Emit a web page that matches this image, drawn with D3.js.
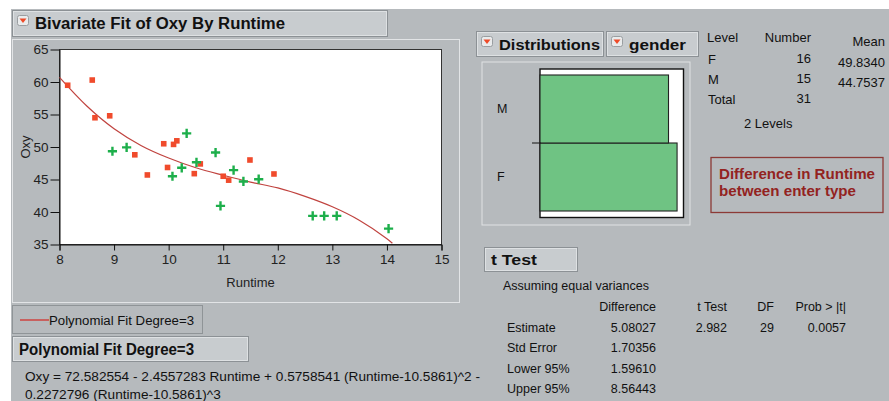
<!DOCTYPE html>
<html>
<head>
<meta charset="utf-8">
<script src="https://cdn.jsdelivr.net/npm/d3@7"></script>
<style>
  body { margin: 0; background: #fff; }
  svg { display: block; font-family: "Liberation Sans", Arial, sans-serif; }
</style>
</head>
<body>
<div id="main"></div>
<script>
// values
const femaleRuntime = [8.15, 8.6, 8.65, 8.92, 9.38, 9.61, 9.91, 9.98, 10.09, 10.15, 10.47, 10.58, 11.0, 11.1, 11.49, 11.93];
const femaleOxy = [59.5, 60.3, 54.5, 54.8, 48.8, 45.7, 50.5, 46.85, 50.4, 50.95, 45.9, 47.4, 45.5, 44.9, 48.0, 45.85];
const maleRuntime = [8.97, 9.23, 10.07, 10.24, 10.33, 10.51, 10.86, 10.95, 11.19, 11.37, 11.65, 12.64, 12.85, 13.08, 14.03];
const maleOxy = [49.35, 49.95, 45.5, 46.8, 52.1, 47.65, 49.15, 40.95, 46.45, 44.7, 45.05, 39.4, 39.4, 39.4, 37.45];
const fitRuntime = [8.0, 8.5, 9.0, 9.5, 10.0, 10.5, 11.0, 11.5, 12.0, 12.5, 13.0, 13.5, 14.0, 14.1];
const fitOxy = [60.7, 56.3, 52.8, 50.2, 48.3, 46.8, 45.65, 44.6, 43.7, 42.4, 40.8, 38.7, 35.9, 35.2];
const xTicks = [8, 9, 10, 11, 12, 13, 14, 15];
const yTicks = [35, 40, 45, 50, 55, 60, 65];

const levels = ["F", "M"];
const counts = [16, 15];
const means = ["49.8340", "44.7537"];
const total = 31;

const tRowNames = ["Estimate", "Std Error", "Lower 95%", "Upper 95%"];
const tDifference = ["5.08027", "1.70356", "1.59610", "8.56443"];
const tHeaders = ["Difference", "t Test", "DF", "Prob > |t|"];
const tEstimateExtra = ["2.982", "29", "0.0057"];

const eqLines = [
  "Oxy = 72.582554 - 2.4557283 Runtime + 0.5758541 (Runtime-10.5861)^2 -",
  "0.2272796 (Runtime-10.5861)^3"
];

const W = 889, H = 401;
const bg = "#b6babd";
const boxFill = "#c8cccf";

const svg = d3.select("#main").append("svg").attr("width", W).attr("height", H);

svg.append("rect").attr("width", W).attr("height", H).attr("fill", "#fff");
svg.append("rect").attr("x", 11).attr("y", 9).attr("width", W - 11).attr("height", H - 9).attr("fill", bg);

// title style boxes with the little red triangle
const titleBox = (x, y, w, h, label, opts = {}) => {
  const g = svg.append("g");
  g.append("rect").attr("x", x + 0.5).attr("y", y + 0.5).attr("width", w).attr("height", h)
    .attr("fill", boxFill).attr("stroke", "#8c9195");
  g.append("rect").attr("x", x + 1.5).attr("y", y + 1.5).attr("width", w - 2).attr("height", h - 2)
    .attr("fill", "none").attr("stroke", "#e4e6e8").attr("stroke-width", 0.8);
  let tx = x + 7;
  if (opts.icon) {
    g.append("rect").attr("x", x + 5.5).attr("y", y + 5.5).attr("width", 11).attr("height", 10).attr("rx", 2)
      .attr("fill", "#e9ebec").attr("stroke", "#9a9ea1");
    g.append("path").attr("d", `M${x + 7.5},${y + 8.5} L${x + 14.5},${y + 8.5} L${x + 11},${y + 13}Z`).attr("fill", "#ee4a28");
    tx = x + 23;
  }
  g.append("text").attr("x", tx).attr("y", opts.base).attr("font-size", opts.size || 16)
    .attr("font-weight", "bold").attr("fill", "#111").text(label)
    .attr("textLength", opts.len).attr("lengthAdjust", "spacingAndGlyphs");
};

// ---------- Bivariate panel ----------
svg.append("rect").attr("x", 12.5).attr("y", 39.5).attr("width", 447).attr("height", 263)
  .attr("fill", bg).attr("stroke", "#e2e4e6");
titleBox(12, 10, 375, 26, "Bivariate Fit of Oxy By Runtime", { icon: true, base: 29, len: 250 });

const x = d3.scaleLinear().domain([8, 15]).range([59.5, 441.5]);
const y = d3.scaleLinear().domain([35, 65]).range([244.5, 49.5]);

svg.append("rect").attr("x", x(8)).attr("y", y(65)).attr("width", x(15) - x(8)).attr("height", y(35) - y(65))
  .attr("fill", "#fff").attr("stroke", "#333");

svg.append("g").attr("transform", `translate(0,${y(35)})`)
  .call(d3.axisBottom(x).tickValues(xTicks).tickSize(6).tickPadding(4).tickFormat(d3.format("d")))
  .call((g) => g.selectAll("text").attr("font-size", 13.5).attr("fill", "#222").attr("font-family", null))
  .call((g) => g.selectAll("line,path").attr("stroke", "#111"));

svg.append("g").attr("transform", `translate(${x(8)},0)`)
  .call(d3.axisLeft(y).tickValues(yTicks).tickSize(9).tickPadding(2).tickSizeOuter(0))
  .call((g) => g.selectAll("text").attr("font-size", 13.5).attr("fill", "#222").attr("font-family", null))
  .call((g) => g.selectAll("line,path").attr("stroke", "#111"));

svg.append("text").attr("x", x(11.5)).attr("y", 287).attr("text-anchor", "middle")
  .attr("font-size", 13).attr("fill", "#222").text("Runtime");
svg.append("text").attr("transform", `translate(30,147) rotate(-90)`).attr("text-anchor", "middle")
  .attr("font-size", 13).attr("fill", "#222").text("Oxy");

// fit curve
const fit = fitRuntime.map((r, i) => [r, fitOxy[i]]);
svg.append("path").datum(fit)
  .attr("d", d3.line().x((d) => x(d[0])).y((d) => y(d[1])).curve(d3.curveCatmullRom))
  .attr("fill", "none").attr("stroke", "#c0433f").attr("stroke-width", 1.2);

// F points: red squares
svg.append("g").selectAll("rect")
  .data(femaleRuntime.map((r, i) => [r, femaleOxy[i]]))
  .join("rect")
  .attr("x", (d) => x(d[0]) - 2.8).attr("y", (d) => y(d[1]) - 2.8)
  .attr("width", 5.6).attr("height", 5.6).attr("fill", "#f04b2c");

// M points: green crosses
svg.append("g").selectAll("path")
  .data(maleRuntime.map((r, i) => [r, maleOxy[i]]))
  .join("path")
  .attr("d", (d) => {
    const cx = x(d[0]), cy = y(d[1]), s = 4.6;
    return `M${cx - s},${cy}H${cx + s}M${cx},${cy - s}V${cy + s}`;
  })
  .attr("stroke", "#1daf4b").attr("stroke-width", 2.4);

// legend
svg.append("rect").attr("x", 12.5).attr("y", 305.5).attr("width", 190).attr("height", 28)
  .attr("fill", bg).attr("stroke", "#8f9497");
svg.append("line").attr("x1", 20).attr("x2", 49).attr("y1", 320).attr("y2", 320)
  .attr("stroke", "#d2302c").attr("stroke-width", 1.3);
svg.append("text").attr("x", 49).attr("y", 324.5).attr("font-size", 12).attr("fill", "#111")
  .attr("textLength", 145).attr("lengthAdjust", "spacingAndGlyphs").text("Polynomial Fit Degree=3");

// polynomial fit report
titleBox(12, 336, 236, 25, "Polynomial Fit Degree=3", { base: 355, size: 16, len: 175 });
const eq = svg.append("g").selectAll("text").data(eqLines).join("text")
  .attr("x", 25).attr("y", (d, i) => 381 + i * 17.5)
  .attr("font-size", 13).attr("fill", "#111")
  .text((d) => d);
// same horizontal squeeze on both lines
const natural = eq.nodes().map((n) => n.getComputedTextLength());
const squeeze = 455 / natural[0];
eq.attr("textLength", (d, i) => natural[i] * squeeze).attr("lengthAdjust", "spacingAndGlyphs");

// ---------- Distributions ----------
titleBox(476, 31, 127, 25, "Distributions", { icon: true, base: 49.5, size: 15.5, len: 101 });
titleBox(606, 31, 92, 25, "gender", { icon: true, base: 49.5, size: 15.5, len: 57 });

svg.append("rect").attr("x", 482).attr("y", 62).attr("width", 208).attr("height", 163)
  .attr("fill", bg).attr("stroke", "#e0e2e4");
svg.append("rect").attr("x", 540).attr("y", 69).attr("width", 143.5).attr("height", 148.5)
  .attr("fill", "#fff").attr("stroke", "#111").attr("stroke-width", 1.4);

const bx = d3.scaleLinear().domain([0, 16.75]).range([540, 683.5]);
const by = d3.scaleBand().domain(["M", "F"]).range([75, 211]);
svg.append("g").selectAll("rect").data(levels).join("rect")
  .attr("x", bx(0)).attr("y", (d) => by(d))
  .attr("width", (d, i) => bx(counts[i]) - bx(0)).attr("height", by.bandwidth())
  .attr("fill", "#6fc383").attr("stroke", "#222").attr("stroke-width", 1.1);
svg.append("line").attr("x1", 532).attr("x2", 541).attr("y1", by("F")).attr("y2", by("F"))
  .attr("stroke", "#222").attr("stroke-width", 1.1);
svg.append("g").selectAll("text").data(levels).join("text")
  .attr("x", 497).attr("y", (d) => by(d) + by.bandwidth() / 2 + 4)
  .attr("font-size", 12.5).attr("fill", "#111").text((d) => d);

// level table
const tt = svg.append("g").attr("font-size", 13).attr("fill", "#111");
tt.append("text").attr("x", 707).attr("y", 42).text("Level");
tt.append("text").attr("x", 811).attr("y", 41.5).attr("text-anchor", "end").text("Number");
tt.append("text").attr("x", 885).attr("y", 46).attr("text-anchor", "end").text("Mean");
levels.forEach((lv, i) => {
  tt.append("text").attr("x", 708).attr("y", 63.5 + i * 20).text(lv);
  tt.append("text").attr("x", 811).attr("y", 63 + i * 20).attr("text-anchor", "end").text(counts[i]);
  tt.append("text").attr("x", 885).attr("y", 67 + i * 20).attr("text-anchor", "end").text(means[i]);
});
tt.append("text").attr("x", 708).attr("y", 104).text("Total");
tt.append("text").attr("x", 811).attr("y", 103).attr("text-anchor", "end").text(total);
tt.append("text").attr("x", 744).attr("y", 127.5).text(`${levels.length} Levels`);

// note box
svg.append("rect").attr("x", 711).attr("y", 157.5).attr("width", 172).attr("height", 55)
  .attr("fill", bg).attr("stroke", "#8c3a36").attr("stroke-width", 1.3);
svg.append("g").selectAll("text").data(["Difference in Runtime", "between enter type"]).join("text")
  .attr("x", 719).attr("y", (d, i) => 178.5 + i * 17.5)
  .attr("font-size", 14.5).attr("font-weight", "bold").attr("fill", "#93231f")
  .attr("textLength", (d, i) => (i === 0 ? 156 : 137)).attr("lengthAdjust", "spacingAndGlyphs")
  .text((d) => d);

// ---------- t Test ----------
titleBox(484, 247, 93, 24, "t Test", { base: 265, size: 15.5, len: 46 });
const tg = svg.append("g").attr("font-size", 12.5).attr("fill", "#111");
tg.append("text").attr("x", 503).attr("y", 290).text("Assuming equal variances");
const colRight = [656, 727, 774, 846];
tHeaders.forEach((h, i) => {
  tg.append("text").attr("x", colRight[i]).attr("y", 311).attr("text-anchor", "end").text(h);
});
tRowNames.forEach((r, i) => {
  const yy = 332 + i * 20.3;
  tg.append("text").attr("x", 507).attr("y", yy).text(r);
  tg.append("text").attr("x", colRight[0]).attr("y", yy).attr("text-anchor", "end").text(tDifference[i]);
});
tEstimateExtra.forEach((v, i) => {
  tg.append("text").attr("x", colRight[i + 1]).attr("y", 332).attr("text-anchor", "end").text(v);
});
</script>
</body>
</html>
